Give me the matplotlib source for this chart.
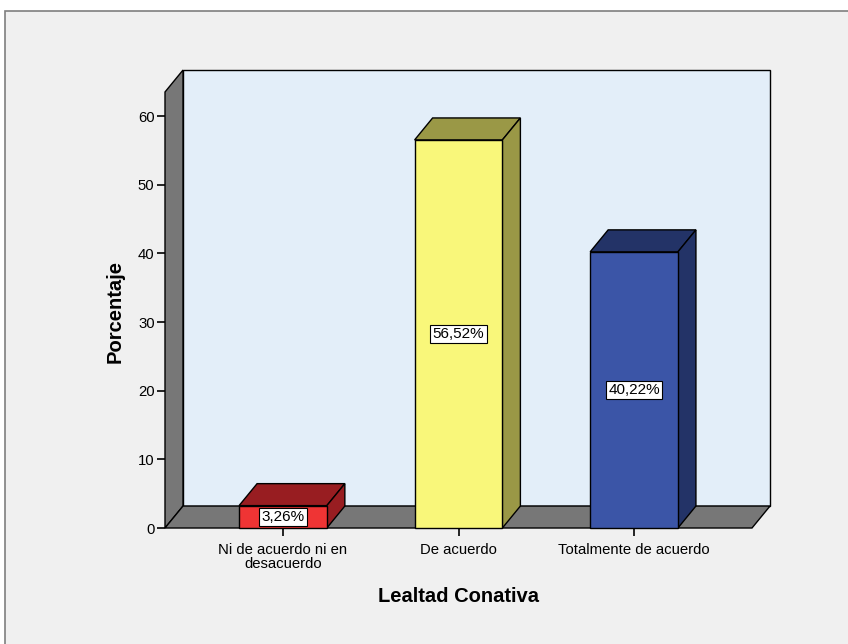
import matplotlib
matplotlib.use("Agg")
import matplotlib.pyplot as plt
from matplotlib.patches import Polygon, Rectangle

categories = ["Ni de acuerdo ni en\ndesacuerdo", "De acuerdo", "Totalmente de acuerdo"]
values = [3.26, 56.52, 40.22]
labels = ["3,26%", "56,52%", "40,22%"]
front_colors = ["#ef3434", "#f9f77a", "#3b55a7"]
shade_colors = ["#981d21", "#9a9846", "#233367"]
yticks = [0, 10, 20, 30, 40, 50, 60]

W, H = 848, 644
plt.rcParams["font.family"] = ["Liberation Sans", "DejaVu Sans"]

fig = plt.figure(figsize=(W / 100, H / 100), dpi=100)
fig.patch.set_facecolor("white")
# outer frame of the output window
fig.patches.append(Rectangle((5 / W, -0.05), 1.0, (H - 11) / H + 0.05, transform=fig.transFigure,
                             facecolor="#f0f0f0", edgecolor="#7f7f7f", lw=1.2, zorder=-10))

ax = fig.add_axes([165 / W, (H - 528) / H, 587 / W, 436 / H])
ax.set_facecolor("none")
xl, xr = -0.672, 2.672
ytop = 63.5
dx, dy = 0.1026, 3.2       # depth offset of the 3d effect
bw = 0.5
ax.set_xlim(xl, xr)
ax.set_ylim(0, ytop)
for s in ax.spines.values():
    s.set_visible(False)

kw = dict(edgecolor="black", lw=1.0, clip_on=False, joinstyle="miter")
# back wall, left wall, floor
ax.add_patch(Polygon([(xl + dx, dy), (xr + dx, dy), (xr + dx, ytop + dy), (xl + dx, ytop + dy)],
                     facecolor="#e3eef9", zorder=1, **kw))
ax.add_patch(Polygon([(xl, 0), (xl, ytop), (xl + dx, ytop + dy), (xl + dx, dy)],
                     facecolor="#777777", zorder=2, **kw))
ax.add_patch(Polygon([(xl, 0), (xr, 0), (xr + dx, dy), (xl + dx, dy)],
                     facecolor="#777777", zorder=2, **kw))

for i, (v, fc, sc, lab) in enumerate(zip(values, front_colors, shade_colors, labels)):
    x0, x1 = i - bw / 2, i + bw / 2
    ax.add_patch(Polygon([(x0, v), (x1, v), (x1 + dx, v + dy), (x0 + dx, v + dy)],
                         facecolor=sc, zorder=3, **kw))
    ax.add_patch(Polygon([(x1, 0), (x1 + dx, dy), (x1 + dx, v + dy), (x1, v)],
                         facecolor=sc, zorder=3, **kw))
    ax.add_patch(Polygon([(x0, 0), (x1, 0), (x1, v), (x0, v)],
                         facecolor=fc, zorder=4, **kw))
    ax.text(i, v / 2, lab, ha="center", va="center", fontsize=11, zorder=5,
            bbox=dict(boxstyle="square,pad=0.15", facecolor="white", edgecolor="black", lw=0.8))

ax.set_xticks(range(len(categories)))
ax.set_xticklabels(categories, fontsize=10.7, linespacing=0.95)
ax.set_yticks(yticks)
ax.set_yticklabels([str(t) for t in yticks], fontsize=10.7)
ax.tick_params(axis="both", length=6, width=1.2, color="black", pad=1.5)
ax.tick_params(axis="x", pad=5)

# axis titles placed at the reference positions
fig.text(115 / W, 1 - 311 / H, "Porcentaje", rotation=90, ha="center", va="center",
         fontsize=14.5, fontweight="bold")
fig.text(458 / W, 1 - 597 / H, "Lealtad Conativa", ha="center", va="center",
         fontsize=14.5, fontweight="bold")

fig.savefig("out.png", dpi=100, facecolor=fig.get_facecolor())
